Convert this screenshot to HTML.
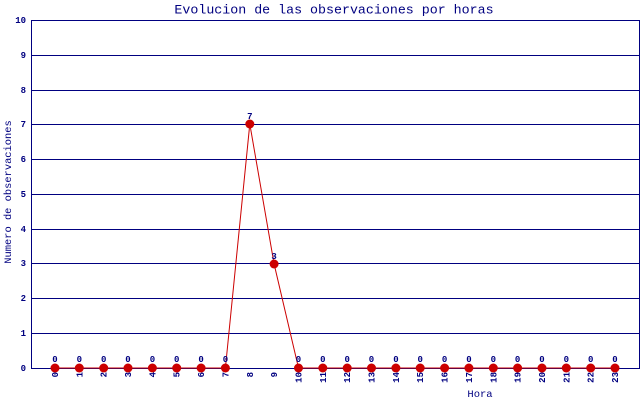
<!DOCTYPE html>
<html><head><meta charset="utf-8"><style>
html,body{margin:0;padding:0;background:#fff;}
svg{display:block;}
text{font-family:"Liberation Mono","DejaVu Sans Mono",monospace;fill:#000080;}
</style></head><body>
<svg width="640" height="400" viewBox="0 0 640 400" xmlns="http://www.w3.org/2000/svg">
<rect width="640" height="400" fill="#fff"/>
<text x="334" y="13.5" font-size="13.3" text-anchor="middle">Evolucion de las observaciones por horas</text>
<g stroke="#000080" stroke-width="1" shape-rendering="crispEdges">
<line x1="31.5" y1="20" x2="31.5" y2="369"/>
<line x1="639.5" y1="20" x2="639.5" y2="369"/>
<line x1="31" y1="20.5" x2="640" y2="20.5"/>
<line x1="31" y1="55.5" x2="640" y2="55.5"/>
<line x1="31" y1="90.5" x2="640" y2="90.5"/>
<line x1="31" y1="124.5" x2="640" y2="124.5"/>
<line x1="31" y1="159.5" x2="640" y2="159.5"/>
<line x1="31" y1="194.5" x2="640" y2="194.5"/>
<line x1="31" y1="229.5" x2="640" y2="229.5"/>
<line x1="31" y1="263.5" x2="640" y2="263.5"/>
<line x1="31" y1="298.5" x2="640" y2="298.5"/>
<line x1="31" y1="333.5" x2="640" y2="333.5"/>
<line x1="31" y1="368.5" x2="640" y2="368.5"/>
</g>
<g font-size="9" font-weight="bold" text-anchor="end">
<text x="26" y="23">10</text>
<text x="26" y="58">9</text>
<text x="26" y="93">8</text>
<text x="26" y="127">7</text>
<text x="26" y="162">6</text>
<text x="26" y="197">5</text>
<text x="26" y="232">4</text>
<text x="26" y="266">3</text>
<text x="26" y="301">2</text>
<text x="26" y="336">1</text>
<text x="26" y="371">0</text>
</g>
<text transform="translate(11,192) rotate(-90)" font-size="10.4" text-anchor="middle">Numero de observaciones</text>
<text x="480" y="397" font-size="10.5" text-anchor="middle">Hora</text>
<polyline fill="none" stroke="#cc0000" stroke-width="1" points="55,368 79.3,368 103.7,368 128,368 152.4,368 176.7,368 201.1,368 225.4,368 249.8,124 274.1,264 298.5,368 322.8,368 347.2,368 371.5,368 395.9,368 420.2,368 444.6,368 468.9,368 493.3,368 517.6,368 542,368 566.3,368 590.7,368 615,368"/>
<g fill="#cc0000">
<circle cx="55" cy="368" r="4.5"/><circle cx="79.3" cy="368" r="4.5"/><circle cx="103.7" cy="368" r="4.5"/><circle cx="128" cy="368" r="4.5"/><circle cx="152.4" cy="368" r="4.5"/><circle cx="176.7" cy="368" r="4.5"/><circle cx="201.1" cy="368" r="4.5"/><circle cx="225.4" cy="368" r="4.5"/><circle cx="249.8" cy="124" r="4.5"/><circle cx="274.1" cy="264" r="4.5"/><circle cx="298.5" cy="368" r="4.5"/><circle cx="322.8" cy="368" r="4.5"/><circle cx="347.2" cy="368" r="4.5"/><circle cx="371.5" cy="368" r="4.5"/><circle cx="395.9" cy="368" r="4.5"/><circle cx="420.2" cy="368" r="4.5"/><circle cx="444.6" cy="368" r="4.5"/><circle cx="468.9" cy="368" r="4.5"/><circle cx="493.3" cy="368" r="4.5"/><circle cx="517.6" cy="368" r="4.5"/><circle cx="542" cy="368" r="4.5"/><circle cx="566.3" cy="368" r="4.5"/><circle cx="590.7" cy="368" r="4.5"/><circle cx="615" cy="368" r="4.5"/>
</g>
<g font-size="9" font-weight="bold" text-anchor="middle">
<text x="55" y="362">0</text><text x="79.3" y="362">0</text><text x="103.7" y="362">0</text><text x="128" y="362">0</text><text x="152.4" y="362">0</text><text x="176.7" y="362">0</text><text x="201.1" y="362">0</text><text x="225.4" y="362">0</text><text x="249.8" y="119">7</text><text x="274.1" y="259">3</text><text x="298.5" y="362">0</text><text x="322.8" y="362">0</text><text x="347.2" y="362">0</text><text x="371.5" y="362">0</text><text x="395.9" y="362">0</text><text x="420.2" y="362">0</text><text x="444.6" y="362">0</text><text x="468.9" y="362">0</text><text x="493.3" y="362">0</text><text x="517.6" y="362">0</text><text x="542" y="362">0</text><text x="566.3" y="362">0</text><text x="590.7" y="362">0</text><text x="615" y="362">0</text>
</g>
<g font-size="9" font-weight="bold" text-anchor="end">
<text transform="translate(58,372) rotate(-90)">0</text>
<text transform="translate(82.3,372) rotate(-90)">1</text>
<text transform="translate(106.7,372) rotate(-90)">2</text>
<text transform="translate(131,372) rotate(-90)">3</text>
<text transform="translate(155.4,372) rotate(-90)">4</text>
<text transform="translate(179.7,372) rotate(-90)">5</text>
<text transform="translate(204.1,372) rotate(-90)">6</text>
<text transform="translate(228.4,372) rotate(-90)">7</text>
<text transform="translate(252.8,372) rotate(-90)">8</text>
<text transform="translate(277.1,372) rotate(-90)">9</text>
<text transform="translate(301.5,372) rotate(-90)">10</text>
<text transform="translate(325.8,372) rotate(-90)">11</text>
<text transform="translate(350.2,372) rotate(-90)">12</text>
<text transform="translate(374.5,372) rotate(-90)">13</text>
<text transform="translate(398.9,372) rotate(-90)">14</text>
<text transform="translate(423.2,372) rotate(-90)">15</text>
<text transform="translate(447.6,372) rotate(-90)">16</text>
<text transform="translate(471.9,372) rotate(-90)">17</text>
<text transform="translate(496.3,372) rotate(-90)">18</text>
<text transform="translate(520.6,372) rotate(-90)">19</text>
<text transform="translate(545,372) rotate(-90)">20</text>
<text transform="translate(569.3,372) rotate(-90)">21</text>
<text transform="translate(593.7,372) rotate(-90)">22</text>
<text transform="translate(618,372) rotate(-90)">23</text>
</g>
</svg>
</body></html>
